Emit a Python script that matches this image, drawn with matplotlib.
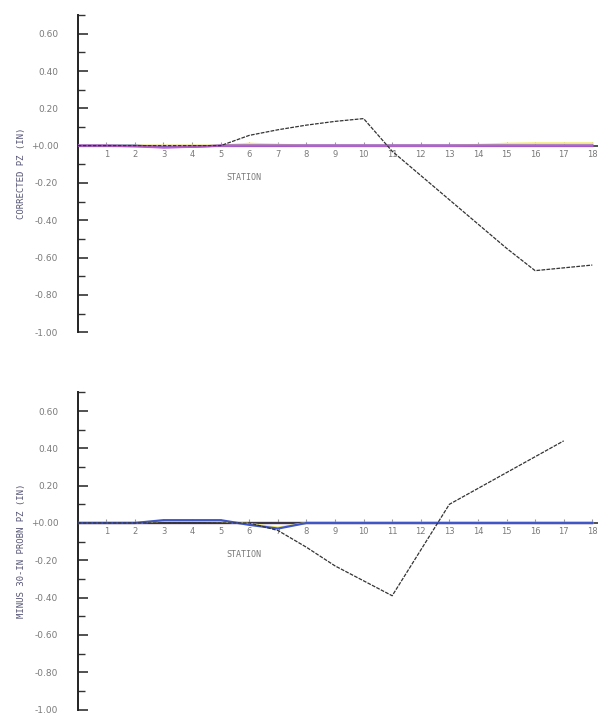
import matplotlib
matplotlib.use("Agg")
import matplotlib.pyplot as plt
from matplotlib.ticker import MultipleLocator, FuncFormatter

# Stations along the line
STATIONS = list(range(19))
TICK_STATIONS = list(range(1, 19))

# Top panel: corrected PZ (in)
TOP_BLACK = [0, 0, 0, 0, 0, 0, 0.055, 0.085, 0.11, 0.13, 0.145,
             -0.03, -0.16, -0.29, -0.42, -0.55, -0.67, -0.655, -0.64]
TOP_CYAN = [0] * 19
TOP_MAGENTA = [0, 0, -0.004, -0.01, -0.006, 0, 0, 0, 0, 0, 0, 0, 0, 0, 0, 0, 0, 0, 0]
TOP_BLUE = [0, 0, 0, -0.008, -0.006, 0, 0, 0, 0, 0, 0, 0, 0, 0, 0, 0, 0, 0, 0]
TOP_YELLOW = [0, 0, 0, 0, 0, 0, 0.01, 0.005, 0, 0, 0, 0, 0, 0, 0.004, 0.01, 0.012, 0.012, 0.012]
TOP_RED = [0] * 19

# Bottom panel: minus 30-in probe PZ (in)
BOT_BLACK = [0, 0, 0, 0, 0, 0, 0, -0.04, -0.13, -0.23, -0.31, -0.39,
             -0.145, 0.10, 0.185, 0.27, 0.355, 0.44]
BOT_BLUE = [0, 0, 0, 0.015, 0.015, 0.015, -0.01, -0.03, 0, 0, 0, 0, 0, 0, 0, 0, 0, 0, 0]
BOT_YELLOW = [0, 0, 0, 0.012, 0.012, 0.01, -0.005, -0.025, 0, 0, 0, 0, 0, 0, 0.003, 0.003, 0, 0, 0]
BOT_RED = [0] * 19
BOT_PURPLE = [0] * 19
BOT_CYAN = [0] * 19

LABEL_GRAY = "#7a7a7a"


def fmt_y(v, pos):
    if abs(v) < 1e-9:
        return "+0.00"
    return f"{v:.2f}"


def style_axes(ax, ylabel):
    ax.set_xlim(0, 18.2)
    ax.set_ylim(-1.0, 0.7)
    for side in ("top", "right"):
        ax.spines[side].set_visible(False)
    ax.spines["left"].set_position(("data", 0))
    ax.spines["bottom"].set_position(("data", 0))
    ax.spines["left"].set_linewidth(1.4)
    ax.spines["bottom"].set_linewidth(1.2)
    ax.spines["left"].set_color("#222222")
    ax.spines["bottom"].set_color("#333333")

    ax.yaxis.set_major_locator(MultipleLocator(0.2))
    ax.yaxis.set_minor_locator(MultipleLocator(0.1))
    ax.yaxis.set_major_formatter(FuncFormatter(fmt_y))
    ax.tick_params(axis="y", which="major", direction="in", length=7, width=1.2,
                   labelsize=6.5, labelcolor=LABEL_GRAY, pad=14, color="#333333")
    ax.tick_params(axis="y", which="minor", direction="in", length=5, width=1.0,
                   color="#333333")

    ax.set_xticks(TICK_STATIONS)
    ax.set_xticklabels([str(s) for s in TICK_STATIONS])
    ax.tick_params(axis="x", direction="in", length=3, width=0.8, labelsize=6,
                   labelcolor=LABEL_GRAY, pad=3, color="#999999")

    ax.text(5.8, -0.17, "STATION", fontsize=6, color=LABEL_GRAY, ha="center",
            va="center", family="DejaVu Sans Mono")
    ax.text(-1.95, -0.15, ylabel, rotation=90, fontsize=6.5, color="#555577",
            ha="center", va="center", family="DejaVu Sans Mono")


fig = plt.figure(figsize=(5.98, 7.16), dpi=100)
ax1 = fig.add_axes([0.130, 0.536, 0.870, 0.443])
ax2 = fig.add_axes([0.130, 0.009, 0.870, 0.443])

for ax in (ax1, ax2):
    ax.set_facecolor("white")

# top panel
ax1.plot(STATIONS, TOP_RED, color="#ff6b6b", lw=1.6, zorder=2)
ax1.plot(STATIONS, TOP_CYAN, color="#7fe3ea", lw=1.6, zorder=2)
ax1.plot(STATIONS, TOP_YELLOW, color="#f2ea6a", lw=1.6, zorder=3)
ax1.plot(STATIONS, TOP_BLUE, color="#4a5fd0", lw=1.6, zorder=3)
ax1.plot(STATIONS, TOP_MAGENTA, color="#c25ad0", lw=1.6, zorder=3)
ax1.plot(STATIONS, TOP_BLACK, color="#333333", lw=0.9, ls=(0, (3, 1)), zorder=4)
style_axes(ax1, "CORRECTED PZ (IN)")

# bottom panel
ax2.plot(STATIONS, BOT_CYAN, color="#7fe3ea", lw=1.6, zorder=2)
ax2.plot(STATIONS, BOT_RED, color="#e96060", lw=1.6, zorder=2)
ax2.plot(STATIONS, BOT_PURPLE, color="#6a4fc8", lw=1.6, zorder=2)
ax2.plot(STATIONS, BOT_YELLOW, color="#f2ea6a", lw=1.6, zorder=3)
ax2.plot(STATIONS, BOT_BLUE, color="#3f56c8", lw=1.6, zorder=3)
ax2.plot(STATIONS[:len(BOT_BLACK)], BOT_BLACK, color="#333333", lw=0.9,
         ls=(0, (3, 1)), zorder=4)
style_axes(ax2, "MINUS 30-IN PROBN PZ (IN)")

fig.savefig("out.png", dpi=100, facecolor="white")
